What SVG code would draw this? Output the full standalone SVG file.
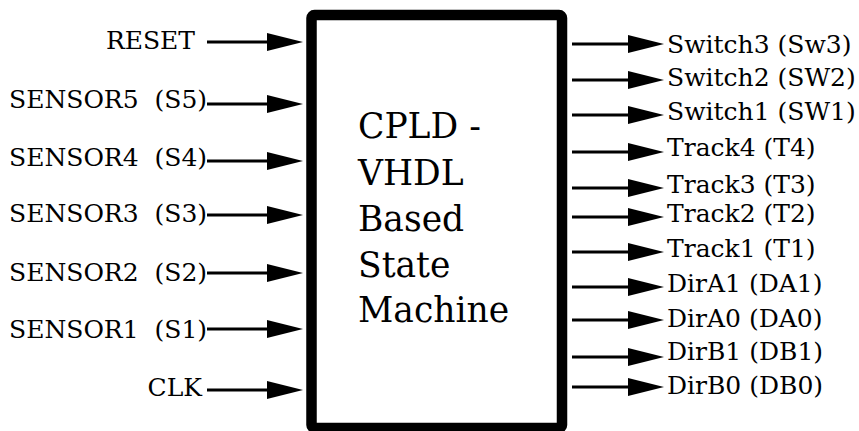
<svg xmlns="http://www.w3.org/2000/svg" width="859" height="431" viewBox="0 0 859 431">
<style>
text{font-family:"DejaVu Serif","Liberation Serif",serif;fill:#000;white-space:pre}
.lbl{font-size:25px}
.ctr{font-size:34.5px}
.wire{stroke:#000;stroke-width:3;fill:none}
</style>
<defs>
<marker id="ah" markerUnits="userSpaceOnUse" markerWidth="36" markerHeight="18" refX="0" refY="9" orient="auto" viewBox="0 0 36 18">
<path d="M0,0 L36,9 L0,18 Z" fill="#000"/>
</marker>
</defs>
<rect width="859" height="431" fill="#fff"/>
<g id="cpld">
<rect x="311.5" y="15" width="250.5" height="413" rx="3" fill="#fff" stroke="#000" stroke-width="10.5"/>
<text class="ctr" x="358" y="138">CPLD -</text>
<text class="ctr" x="358" y="185">VHDL</text>
<text class="ctr" x="358" y="231">Based</text>
<text class="ctr" x="358" y="277">State</text>
<text class="ctr" x="358" y="322">Machine</text>
</g>
<g id="inputs">
<text class="lbl" x="195" y="49" text-anchor="end">RESET</text>
<text class="lbl" x="9" y="108">SENSOR5  (S5)</text>
<text class="lbl" x="9" y="166">SENSOR4  (S4)</text>
<text class="lbl" x="9" y="222">SENSOR3  (S3)</text>
<text class="lbl" x="9" y="281">SENSOR2  (S2)</text>
<text class="lbl" x="9" y="338">SENSOR1  (S1)</text>
<text class="lbl" x="202" y="396" text-anchor="end">CLK</text>
</g>
<g id="outputs">
<text class="lbl" x="667" y="53">Switch3 (Sw3)</text>
<text class="lbl" x="667" y="86">Switch2 (SW2)</text>
<text class="lbl" x="667" y="120">Switch1 (SW1)</text>
<text class="lbl" x="667" y="156">Track4 (T4)</text>
<text class="lbl" x="667" y="193">Track3 (T3)</text>
<text class="lbl" x="667" y="222">Track2 (T2)</text>
<text class="lbl" x="667" y="257">Track1 (T1)</text>
<text class="lbl" x="667" y="292">DirA1 (DA1)</text>
<text class="lbl" x="667" y="327">DirA0 (DA0)</text>
<text class="lbl" x="667" y="360">DirB1 (DB1)</text>
<text class="lbl" x="667" y="394">DirB0 (DB0)</text>
</g>
<g id="connectors" class="wire">
<line x1="207" y1="42" x2="267" y2="42" marker-end="url(#ah)"/>
<line x1="207" y1="104" x2="267" y2="104" marker-end="url(#ah)"/>
<line x1="207" y1="161" x2="267" y2="161" marker-end="url(#ah)"/>
<line x1="207" y1="215" x2="267" y2="215" marker-end="url(#ah)"/>
<line x1="207" y1="273" x2="267" y2="273" marker-end="url(#ah)"/>
<line x1="207" y1="329" x2="267" y2="329" marker-end="url(#ah)"/>
<line x1="207" y1="390" x2="267" y2="390" marker-end="url(#ah)"/>
<line x1="572" y1="44" x2="628" y2="44" marker-end="url(#ah)"/>
<line x1="572" y1="80" x2="628" y2="80" marker-end="url(#ah)"/>
<line x1="572" y1="115" x2="628" y2="115" marker-end="url(#ah)"/>
<line x1="572" y1="152" x2="628" y2="152" marker-end="url(#ah)"/>
<line x1="572" y1="188" x2="628" y2="188" marker-end="url(#ah)"/>
<line x1="572" y1="217" x2="628" y2="217" marker-end="url(#ah)"/>
<line x1="572" y1="252" x2="628" y2="252" marker-end="url(#ah)"/>
<line x1="572" y1="287" x2="628" y2="287" marker-end="url(#ah)"/>
<line x1="572" y1="320" x2="628" y2="320" marker-end="url(#ah)"/>
<line x1="572" y1="357" x2="628" y2="357" marker-end="url(#ah)"/>
<line x1="572" y1="387" x2="628" y2="387" marker-end="url(#ah)"/>
</g>
</svg>
